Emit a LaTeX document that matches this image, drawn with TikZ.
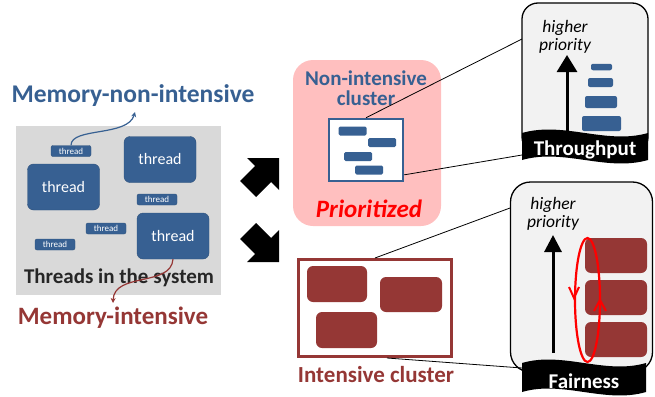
\documentclass[tikz,border=0pt]{standalone}
\usepackage{fontspec}
\setmainfont{Carlito}
\usetikzlibrary{arrows.meta}

\definecolor{threadblue}{HTML}{376092}
\definecolor{threadred}{HTML}{953735}
\definecolor{clusterpink}{HTML}{FFBFBF}
\definecolor{bggray}{HTML}{D9D9D9}
\definecolor{panelgray}{HTML}{F2F2F2}
\definecolor{labelgray}{HTML}{262626}

\tikzset{
  bigthread/.style={draw=threadblue!85!black, fill=threadblue, rounded corners=6pt,
    text=white, minimum width=72pt, minimum height=46pt, inner sep=0pt,
    font=\fontsize{16}{16}\selectfont},
  smallthread/.style={draw=threadblue!85!black, fill=threadblue, rounded corners=2pt,
    text=white, minimum width=40pt, minimum height=11pt, inner sep=0pt,
    font=\fontsize{9}{9}\selectfont},
  redthread/.style={fill=threadred, rounded corners=6pt, inner sep=0pt},
  panel/.style={draw, line width=1.3pt, fill=panelgray, rounded corners=16pt, inner sep=0pt},
  bannertext/.style={text=white, font=\bfseries\fontsize{21}{21}\selectfont},
  prio/.style={font=\itshape\fontsize{17.5}{18}\selectfont, align=center, inner sep=0pt},
}

\begin{document}
\begin{tikzpicture}[x=1pt,y=-1pt]
    \useasboundingbox (0,0) rectangle (655,396);

    % threads in the system
    \fill [bggray] (16,126) rectangle (221,295);
    \node (mem_nonint) [text=threadblue, font=\bfseries\fontsize{25.5}{25.5}\selectfont] at (133,96) {Memory-non-intensive};
    \node (threads) [text=labelgray, font=\bfseries\fontsize{21}{21}\selectfont] at (119,278) {Threads in the system};
    \node (mem_int) [text=threadred, font=\bfseries\fontsize{25}{25}\selectfont] at (113,318) {Memory-intensive};
    \node (small_a) [smallthread] at (71,151) {thread};
    \node (big_a) [bigthread] at (63.5,187) {thread};
    \node (big_b) [bigthread] at (160,159.5) {thread};
    \node (small_b) [smallthread] at (157,199.5) {thread};
    \node (small_c) [smallthread] at (106,228.5) {thread};
    \node (small_d) [smallthread] at (55,244.5) {thread};
    \node (big_c) [bigthread] at (173,236) {thread};
    \coordinate (nonint_tip) at (135,112);
    \coordinate (int_tip) at (113,303);
    \draw [threadblue, line width=1.2pt, -{Stealth[length=5pt,width=5pt]}] (small_a.north) .. controls (71,127) and (128,137) .. (nonint_tip);
    \draw [threadred, line width=1.2pt, -{Stealth[length=5pt,width=5pt]}] (big_c.south) .. controls (171,287) and (114,272) .. (int_tip);

    % block arrows
    \fill (279,158) -- (279,190) -- (271,182) -- (256,197) -- (240,181) -- (255,166) -- (247,158) -- cycle;
    \fill (279,262) -- (279,230) -- (271,238) -- (256,223) -- (240,239) -- (255,254) -- (247,262) -- cycle;

    % non-intensive cluster
    \node (pink) [fill=clusterpink, rounded corners=20pt, minimum width=148pt, minimum height=166pt] at (367,143) {};
    \node (nonint_label) [text=threadblue, align=center, font=\bfseries\fontsize{21}{20}\selectfont] at (366,88) {Non-intensive\\cluster};
    \node (icon) [draw=threadblue, line width=2.5pt, fill=white, minimum width=74pt, minimum height=62pt] at (366,150) {};
    \foreach \x/\y in {352.5/131, 382/142.5, 358/156.5, 369/170}
        \fill [threadblue, rounded corners=1.5pt] (\x-14,\y-4.5) rectangle (\x+14,\y+4.5);
    \node (prioritized) [text=red, font=\bfseries\itshape\fontsize{25}{25}\selectfont] at (369,209) {Prioritized};

    % intensive cluster
    \node (int_box) [draw=threadred, line width=3pt, fill=white, minimum width=153pt, minimum height=97pt] at (375,308) {};
    \node (red_a) [redthread, minimum width=60pt, minimum height=36pt] at (337,284) {};
    \node (red_b) [redthread, minimum width=62pt, minimum height=35pt] at (411,294.5) {};
    \node (red_c) [redthread, minimum width=61pt, minimum height=36pt] at (346.5,330) {};
    \node (int_label) [text=threadred, font=\bfseries\fontsize{23}{23}\selectfont] at (376,375) {Intensive cluster};

    % throughput panel
    \node (tp_box) [panel, minimum width=126pt, minimum height=150pt] at (585,78) {};
    \node (tp_prio) [prio] at (565,36.5) {higher\\priority};
    \draw [line width=3pt, -{Triangle[length=17pt,width=20pt]}] (567,132) -- (567,55);
    \foreach \x/\y/\w/\h in {601.5/67/21/6.5, 600.5/82.5/25/9, 601/102/32/12, 601.5/123.5/39/15}
        \fill [threadblue, rounded corners=2pt] (\x-\w/2,\y-\h/2) rectangle (\x+\w/2,\y+\h/2);
    \fill (522,133) .. controls (564,121) and (606,145) .. (648,133) -- (648,160)
        .. controls (606,172) and (564,148) .. (522,160) -- cycle;
    \node (throughput) [bannertext] at (585,150) {Throughput};

    % fairness panel
    \node (fair_box) [panel, rounded corners=20pt, minimum width=142pt, minimum height=190pt] at (581.5,277) {};
    \node (fair_prio) [prio] at (553,214) {higher\\priority};
    \draw [line width=3pt, -{Triangle[length=17pt,width=17pt]}] (553,353) -- (553,235);
    \node (slot_a) [redthread, minimum width=62pt, minimum height=35pt] at (616,255.5) {};
    \node (slot_b) [redthread, minimum width=62pt, minimum height=35pt] at (616,297.5) {};
    \node (slot_c) [redthread, minimum width=62pt, minimum height=35pt] at (616,339.5) {};
    \draw [red, line width=2.2pt] (587.5,300) ellipse [x radius=12.5, y radius=62];
    \draw [red, line width=2pt] (569,287) -- (574,298) -- (579,287);
    \draw [red, line width=2pt] (594,311) -- (600,300) -- (606,311);
    \fill (522,363) .. controls (563,351) and (605,375) .. (646,363) -- (646,392)
        .. controls (605,404) and (563,380) .. (522,392) -- cycle;
    \node (fairness) [bannertext] at (584,381) {Fairness};

    % zoom lines
    \coordinate (tp_top) at (522,39);
    \coordinate (tp_bot) at (522,155);
    \coordinate (fair_top) at (510,208);
    \coordinate (fair_bot) at (522,368);
    \draw [line width=0.8pt] (icon.north) -- (tp_top);
    \draw [line width=0.8pt] (icon.-33) -- (tp_bot);
    \draw [line width=0.8pt] (int_box.north) -- (fair_top);
    \draw [line width=0.8pt] ([xshift=12pt]int_box.south) -- (fair_bot);
\end{tikzpicture}
\end{document}
